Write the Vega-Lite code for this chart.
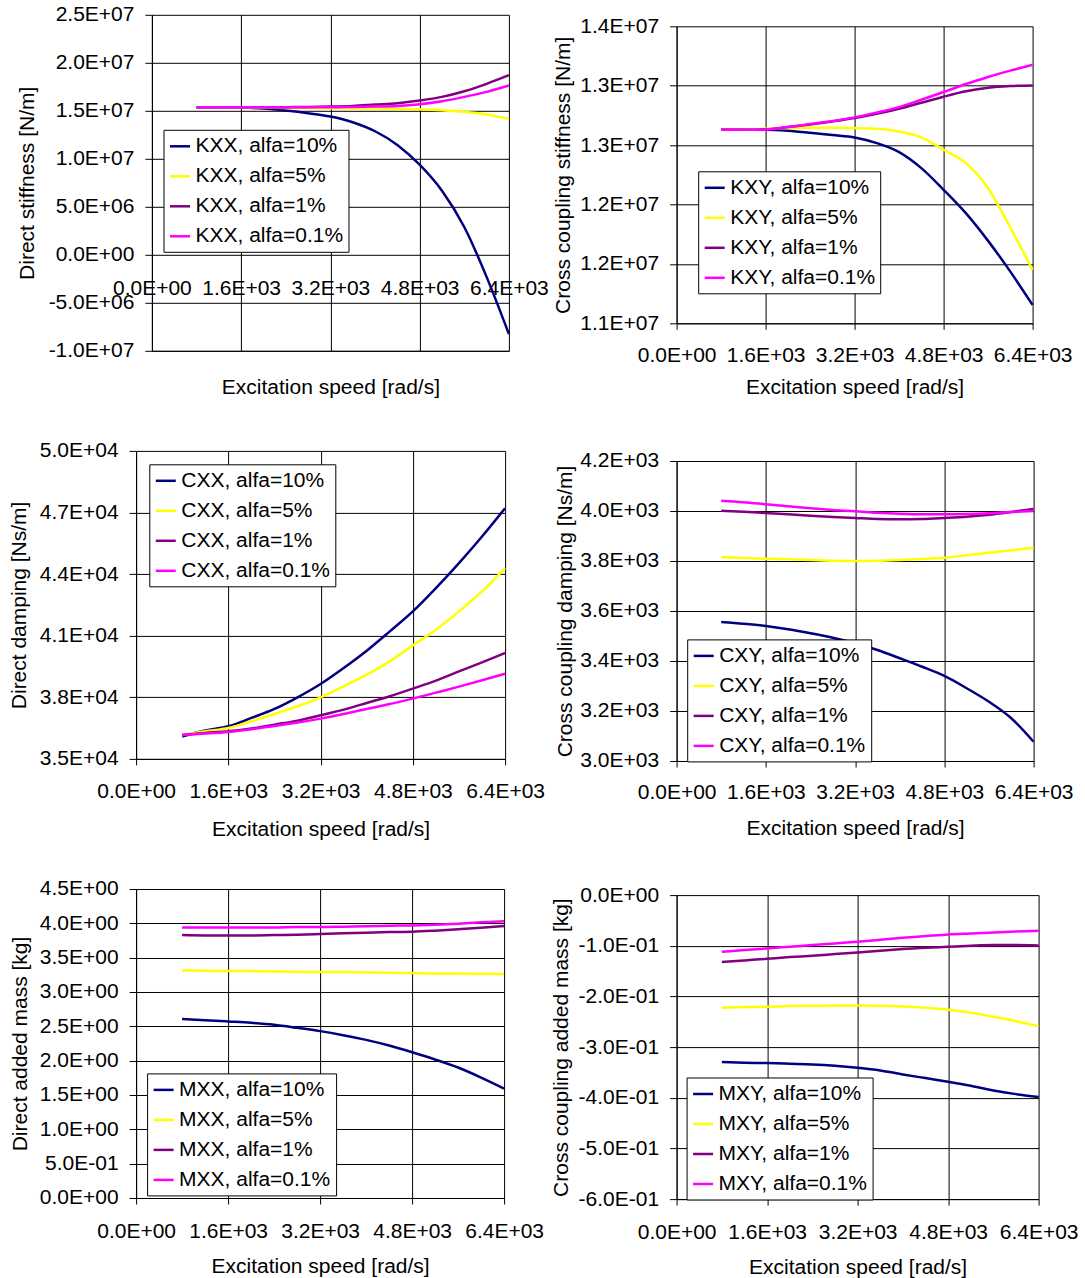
{
"$schema": "https://vega.github.io/schema/vega-lite/v6.json",
"background": "white",
"padding": {"left": 8.1, "top": 3.8, "right": 0, "bottom": 0},
"config": {
  "view": {"stroke": null},
  "font": "Liberation Sans",
  "axis": {"labelFont": "Liberation Sans", "labelFontSize": 21, "labelColor": "#000000", "titleFont": "Liberation Sans", "titleFontSize": 21, "titleFontWeight": "normal", "titleColor": "#000000", "domainColor": "#000000", "tickColor": "#000000", "gridColor": "#000000", "gridOpacity": 1, "gridWidth": 1, "labelFlush": false, "labelOverlap": false, "tickSize": 7, "labelPadding": 11, "grid": true},
  "axisX": {"tickSize": 6, "labelPadding": 35, "labelBaseline": "alphabetic", "titleBaseline": "alphabetic"},
  "legend": {"labelFont": "Liberation Sans", "labelFontSize": 21, "labelColor": "#000000", "symbolType": "stroke", "symbolSize": 400, "symbolStrokeWidth": 2.5, "labelOffset": 4, "rowPadding": 8, "padding": 5, "fillColor": "#ffffff", "strokeColor": "#000000", "labelLimit": 400, "orient": "none"},
  "title": {"offset": 0}
},
"spacing": 0.5,
"resolve": {"scale": {"color": "independent"}, "legend": {"color": "independent"}},
"hconcat": [
{
 "spacing": 38.1,
 "resolve": {"scale": {"color": "independent"}, "legend": {"color": "independent"}},
 "vconcat": [
 {
 "spacing": -120.2,
 "resolve": {"scale": {"color": "independent"}, "legend": {"color": "independent"}},
 "hconcat": [
 {"width": 1, "height": 0.1, "data": {"values": []}, "mark": "point", "encoding": {}},
 {
  "width": 357, "height": 336,
  "data": {"values": [
{"series":"KXX, alfa=10%","speed":800,"value":15370000},{"series":"KXX, alfa=10%","speed":1200,"value":15370000},{"series":"KXX, alfa=10%","speed":1600,"value":15340000},{"series":"KXX, alfa=10%","speed":2000,"value":15230000},{"series":"KXX, alfa=10%","speed":2400,"value":15020000},{"series":"KXX, alfa=10%","speed":2800,"value":14750000},{"series":"KXX, alfa=10%","speed":3200,"value":14400000},{"series":"KXX, alfa=10%","speed":3600,"value":13810000},{"series":"KXX, alfa=10%","speed":4000,"value":12870000},{"series":"KXX, alfa=10%","speed":4400,"value":11450000},{"series":"KXX, alfa=10%","speed":4800,"value":9390000},{"series":"KXX, alfa=10%","speed":5200,"value":6680000},{"series":"KXX, alfa=10%","speed":5600,"value":2900000},{"series":"KXX, alfa=10%","speed":6000,"value":-2300000},{"series":"KXX, alfa=10%","speed":6400,"value":-8260000},
{"series":"KXX, alfa=5%","speed":800,"value":15370000},{"series":"KXX, alfa=5%","speed":1200,"value":15360000},{"series":"KXX, alfa=5%","speed":1600,"value":15340000},{"series":"KXX, alfa=5%","speed":2000,"value":15320000},{"series":"KXX, alfa=5%","speed":2400,"value":15300000},{"series":"KXX, alfa=5%","speed":2800,"value":15280000},{"series":"KXX, alfa=5%","speed":3200,"value":15270000},{"series":"KXX, alfa=5%","speed":3600,"value":15250000},{"series":"KXX, alfa=5%","speed":4000,"value":15230000},{"series":"KXX, alfa=5%","speed":4400,"value":15200000},{"series":"KXX, alfa=5%","speed":4800,"value":15160000},{"series":"KXX, alfa=5%","speed":5200,"value":15060000},{"series":"KXX, alfa=5%","speed":5600,"value":14890000},{"series":"KXX, alfa=5%","speed":6000,"value":14610000},{"series":"KXX, alfa=5%","speed":6400,"value":14160000},
{"series":"KXX, alfa=1%","speed":800,"value":15370000},{"series":"KXX, alfa=1%","speed":1200,"value":15370000},{"series":"KXX, alfa=1%","speed":1600,"value":15370000},{"series":"KXX, alfa=1%","speed":2000,"value":15370000},{"series":"KXX, alfa=1%","speed":2400,"value":15380000},{"series":"KXX, alfa=1%","speed":2800,"value":15400000},{"series":"KXX, alfa=1%","speed":3200,"value":15440000},{"series":"KXX, alfa=1%","speed":3600,"value":15510000},{"series":"KXX, alfa=1%","speed":4000,"value":15650000},{"series":"KXX, alfa=1%","speed":4400,"value":15790000},{"series":"KXX, alfa=1%","speed":4800,"value":16070000},{"series":"KXX, alfa=1%","speed":5200,"value":16450000},{"series":"KXX, alfa=1%","speed":5600,"value":17040000},{"series":"KXX, alfa=1%","speed":6000,"value":17810000},{"series":"KXX, alfa=1%","speed":6400,"value":18710000},
{"series":"KXX, alfa=0.1%","speed":800,"value":15370000},{"series":"KXX, alfa=0.1%","speed":1200,"value":15370000},{"series":"KXX, alfa=0.1%","speed":1600,"value":15370000},{"series":"KXX, alfa=0.1%","speed":2000,"value":15370000},{"series":"KXX, alfa=0.1%","speed":2400,"value":15370000},{"series":"KXX, alfa=0.1%","speed":2800,"value":15370000},{"series":"KXX, alfa=0.1%","speed":3200,"value":15370000},{"series":"KXX, alfa=0.1%","speed":3600,"value":15400000},{"series":"KXX, alfa=0.1%","speed":4000,"value":15440000},{"series":"KXX, alfa=0.1%","speed":4400,"value":15510000},{"series":"KXX, alfa=0.1%","speed":4800,"value":15690000},{"series":"KXX, alfa=0.1%","speed":5200,"value":16000000},{"series":"KXX, alfa=0.1%","speed":5600,"value":16450000},{"series":"KXX, alfa=0.1%","speed":6000,"value":16970000},{"series":"KXX, alfa=0.1%","speed":6400,"value":17630000}
  ]},
  "mark": {"type": "line", "strokeWidth": 2.5, "interpolate": "monotone"},
  "encoding": {
   "x": {"field": "speed", "type": "quantitative", "scale": {"domain": [0, 6400], "nice": false},
     "axis": {"title": "Excitation speed [rad/s]", "values": [0, 1600, 3200, 4800, 6400], "tickSize": 0, "labelPadding": -56.7, "titleY": 42.4,
      "labelExpr": "(datum.value < 0 ? '-' : '') + slice(format(abs(datum.value), '.1e'), 0, indexof(format(abs(datum.value), '.1e'), 'e')) + 'E' + slice(format(abs(datum.value), '.1e'), indexof(format(abs(datum.value), '.1e'), 'e') + 1, indexof(format(abs(datum.value), '.1e'), 'e') + 2) + '0' + slice(format(abs(datum.value), '.1e'), indexof(format(abs(datum.value), '.1e'), 'e') + 2)"}},
   "y": {"field": "value", "type": "quantitative", "scale": {"domain": [-10000000, 25000000], "nice": false, "zero": false},
     "axis": {"title": "Direct stiffness [N/m]", "values": [-10000000, -5000000, 0, 5000000, 10000000, 15000000, 20000000, 25000000], "titleX": -114,
      "labelExpr": "(datum.value < 0 ? '-' : '') + slice(format(abs(datum.value), '.1e'), 0, indexof(format(abs(datum.value), '.1e'), 'e')) + 'E' + slice(format(abs(datum.value), '.1e'), indexof(format(abs(datum.value), '.1e'), 'e') + 1, indexof(format(abs(datum.value), '.1e'), 'e') + 2) + '0' + slice(format(abs(datum.value), '.1e'), indexof(format(abs(datum.value), '.1e'), 'e') + 2)"}},
   "color": {"field": "series", "type": "nominal",
     "scale": {"domain": ["KXX, alfa=10%", "KXX, alfa=5%", "KXX, alfa=1%", "KXX, alfa=0.1%"], "range": ["#000080", "#FFFF00", "#800080", "#FF00FF"]},
     "legend": {"title": null, "orient": "none", "legendX": 11.6, "legendY": 115}}
  }
 }
 ]
 },
 {
  "width": 369, "height": 308,
  "title": {"text": " ", "fontSize": 3.6, "offset": 0},
  "data": {"values": [
{"series":"CXX, alfa=10%","speed":800,"value":36087},{"series":"CXX, alfa=10%","speed":1200,"value":36379},{"series":"CXX, alfa=10%","speed":1600,"value":36589},{"series":"CXX, alfa=10%","speed":2000,"value":36995},{"series":"CXX, alfa=10%","speed":2400,"value":37433},{"series":"CXX, alfa=10%","speed":2800,"value":38000},{"series":"CXX, alfa=10%","speed":3200,"value":38649},{"series":"CXX, alfa=10%","speed":3600,"value":39427},{"series":"CXX, alfa=10%","speed":4000,"value":40270},{"series":"CXX, alfa=10%","speed":4400,"value":41211},{"series":"CXX, alfa=10%","speed":4800,"value":42184},{"series":"CXX, alfa=10%","speed":5200,"value":43319},{"series":"CXX, alfa=10%","speed":5600,"value":44535},{"series":"CXX, alfa=10%","speed":6000,"value":45832},{"series":"CXX, alfa=10%","speed":6400,"value":47211},
{"series":"CXX, alfa=5%","speed":800,"value":36168},{"series":"CXX, alfa=5%","speed":1200,"value":36346},{"series":"CXX, alfa=5%","speed":1600,"value":36508},{"series":"CXX, alfa=5%","speed":2000,"value":36833},{"series":"CXX, alfa=5%","speed":2400,"value":37189},{"series":"CXX, alfa=5%","speed":2800,"value":37562},{"series":"CXX, alfa=5%","speed":3200,"value":38000},{"series":"CXX, alfa=5%","speed":3600,"value":38535},{"series":"CXX, alfa=5%","speed":4000,"value":39103},{"series":"CXX, alfa=5%","speed":4400,"value":39751},{"series":"CXX, alfa=5%","speed":4800,"value":40530},{"series":"CXX, alfa=5%","speed":5200,"value":41292},{"series":"CXX, alfa=5%","speed":5600,"value":42184},{"series":"CXX, alfa=5%","speed":6000,"value":43157},{"series":"CXX, alfa=5%","speed":6400,"value":44292},
{"series":"CXX, alfa=1%","speed":800,"value":36168},{"series":"CXX, alfa=1%","speed":1200,"value":36265},{"series":"CXX, alfa=1%","speed":1600,"value":36346},{"series":"CXX, alfa=1%","speed":2000,"value":36476},{"series":"CXX, alfa=1%","speed":2400,"value":36670},{"series":"CXX, alfa=1%","speed":2800,"value":36865},{"series":"CXX, alfa=1%","speed":3200,"value":37124},{"series":"CXX, alfa=1%","speed":3600,"value":37400},{"series":"CXX, alfa=1%","speed":4000,"value":37724},{"series":"CXX, alfa=1%","speed":4400,"value":38049},{"series":"CXX, alfa=1%","speed":4800,"value":38422},{"series":"CXX, alfa=1%","speed":5200,"value":38811},{"series":"CXX, alfa=1%","speed":5600,"value":39265},{"series":"CXX, alfa=1%","speed":6000,"value":39703},{"series":"CXX, alfa=1%","speed":6400,"value":40157},
{"series":"CXX, alfa=0.1%","speed":800,"value":36168},{"series":"CXX, alfa=0.1%","speed":1200,"value":36233},{"series":"CXX, alfa=0.1%","speed":1600,"value":36314},{"series":"CXX, alfa=0.1%","speed":2000,"value":36443},{"series":"CXX, alfa=0.1%","speed":2400,"value":36606},{"series":"CXX, alfa=0.1%","speed":2800,"value":36768},{"series":"CXX, alfa=0.1%","speed":3200,"value":36962},{"series":"CXX, alfa=0.1%","speed":3600,"value":37189},{"series":"CXX, alfa=0.1%","speed":4000,"value":37433},{"series":"CXX, alfa=0.1%","speed":4400,"value":37676},{"series":"CXX, alfa=0.1%","speed":4800,"value":37935},{"series":"CXX, alfa=0.1%","speed":5200,"value":38227},{"series":"CXX, alfa=0.1%","speed":5600,"value":38519},{"series":"CXX, alfa=0.1%","speed":6000,"value":38827},{"series":"CXX, alfa=0.1%","speed":6400,"value":39152}
  ]},
  "mark": {"type": "line", "strokeWidth": 2.5, "interpolate": "monotone"},
  "encoding": {
   "x": {"field": "speed", "type": "quantitative", "scale": {"domain": [0, 6400], "nice": false},
     "axis": {"title": "Excitation speed [rad/s]", "values": [0, 1600, 3200, 4800, 6400], "labelPadding": 33, "titleY": 77,
      "labelExpr": "(datum.value < 0 ? '-' : '') + slice(format(abs(datum.value), '.1e'), 0, indexof(format(abs(datum.value), '.1e'), 'e')) + 'E' + slice(format(abs(datum.value), '.1e'), indexof(format(abs(datum.value), '.1e'), 'e') + 1, indexof(format(abs(datum.value), '.1e'), 'e') + 2) + '0' + slice(format(abs(datum.value), '.1e'), indexof(format(abs(datum.value), '.1e'), 'e') + 2)"}},
   "y": {"field": "value", "type": "quantitative", "scale": {"domain": [35000, 50000], "nice": false, "zero": false},
     "axis": {"title": "Direct damping [Ns/m]", "values": [35000, 38000, 41000, 44000, 47000, 50000], "titleX": -107,
      "labelExpr": "(datum.value < 0 ? '-' : '') + slice(format(abs(datum.value), '.1e'), 0, indexof(format(abs(datum.value), '.1e'), 'e')) + 'E' + slice(format(abs(datum.value), '.1e'), indexof(format(abs(datum.value), '.1e'), 'e') + 1, indexof(format(abs(datum.value), '.1e'), 'e') + 2) + '0' + slice(format(abs(datum.value), '.1e'), indexof(format(abs(datum.value), '.1e'), 'e') + 2)"}},
   "color": {"field": "series", "type": "nominal",
     "scale": {"domain": ["CXX, alfa=10%", "CXX, alfa=5%", "CXX, alfa=1%", "CXX, alfa=0.1%"], "range": ["#000080", "#FFFF00", "#800080", "#FF00FF"]},
     "legend": {"title": null, "orient": "none", "legendX": 13.2, "legendY": 13.4}}
  }
 },
 {
  "width": 368, "height": 309,
  "data": {"values": [
{"series":"MXX, alfa=10%","speed":800,"value":2.605},{"series":"MXX, alfa=10%","speed":1200,"value":2.59},{"series":"MXX, alfa=10%","speed":1600,"value":2.571},{"series":"MXX, alfa=10%","speed":2000,"value":2.551},{"series":"MXX, alfa=10%","speed":2400,"value":2.522},{"series":"MXX, alfa=10%","speed":2800,"value":2.478},{"series":"MXX, alfa=10%","speed":3200,"value":2.43},{"series":"MXX, alfa=10%","speed":3600,"value":2.371},{"series":"MXX, alfa=10%","speed":4000,"value":2.303},{"series":"MXX, alfa=10%","speed":4400,"value":2.221},{"series":"MXX, alfa=10%","speed":4800,"value":2.123},{"series":"MXX, alfa=10%","speed":5200,"value":2.017},{"series":"MXX, alfa=10%","speed":5600,"value":1.9},{"series":"MXX, alfa=10%","speed":6000,"value":1.754},{"series":"MXX, alfa=10%","speed":6400,"value":1.594},
{"series":"MXX, alfa=5%","speed":800,"value":3.314},{"series":"MXX, alfa=5%","speed":1200,"value":3.309},{"series":"MXX, alfa=5%","speed":1600,"value":3.304},{"series":"MXX, alfa=5%","speed":2000,"value":3.304},{"series":"MXX, alfa=5%","speed":2400,"value":3.3},{"series":"MXX, alfa=5%","speed":2800,"value":3.295},{"series":"MXX, alfa=5%","speed":3200,"value":3.29},{"series":"MXX, alfa=5%","speed":3600,"value":3.29},{"series":"MXX, alfa=5%","speed":4000,"value":3.285},{"series":"MXX, alfa=5%","speed":4400,"value":3.28},{"series":"MXX, alfa=5%","speed":4800,"value":3.275},{"series":"MXX, alfa=5%","speed":5200,"value":3.27},{"series":"MXX, alfa=5%","speed":5600,"value":3.27},{"series":"MXX, alfa=5%","speed":6000,"value":3.266},{"series":"MXX, alfa=5%","speed":6400,"value":3.261},
{"series":"MXX, alfa=1%","speed":800,"value":3.829},{"series":"MXX, alfa=1%","speed":1200,"value":3.824},{"series":"MXX, alfa=1%","speed":1600,"value":3.824},{"series":"MXX, alfa=1%","speed":2000,"value":3.824},{"series":"MXX, alfa=1%","speed":2400,"value":3.829},{"series":"MXX, alfa=1%","speed":2800,"value":3.834},{"series":"MXX, alfa=1%","speed":3200,"value":3.844},{"series":"MXX, alfa=1%","speed":3600,"value":3.854},{"series":"MXX, alfa=1%","speed":4000,"value":3.863},{"series":"MXX, alfa=1%","speed":4400,"value":3.873},{"series":"MXX, alfa=1%","speed":4800,"value":3.878},{"series":"MXX, alfa=1%","speed":5200,"value":3.893},{"series":"MXX, alfa=1%","speed":5600,"value":3.912},{"series":"MXX, alfa=1%","speed":6000,"value":3.936},{"series":"MXX, alfa=1%","speed":6400,"value":3.961},
{"series":"MXX, alfa=0.1%","speed":800,"value":3.941},{"series":"MXX, alfa=0.1%","speed":1200,"value":3.941},{"series":"MXX, alfa=0.1%","speed":1600,"value":3.941},{"series":"MXX, alfa=0.1%","speed":2000,"value":3.941},{"series":"MXX, alfa=0.1%","speed":2400,"value":3.941},{"series":"MXX, alfa=0.1%","speed":2800,"value":3.946},{"series":"MXX, alfa=0.1%","speed":3200,"value":3.946},{"series":"MXX, alfa=0.1%","speed":3600,"value":3.951},{"series":"MXX, alfa=0.1%","speed":4000,"value":3.956},{"series":"MXX, alfa=0.1%","speed":4400,"value":3.965},{"series":"MXX, alfa=0.1%","speed":4800,"value":3.97},{"series":"MXX, alfa=0.1%","speed":5200,"value":3.98},{"series":"MXX, alfa=0.1%","speed":5600,"value":3.995},{"series":"MXX, alfa=0.1%","speed":6000,"value":4.014},{"series":"MXX, alfa=0.1%","speed":6400,"value":4.029}
  ]},
  "mark": {"type": "line", "strokeWidth": 2.5, "interpolate": "monotone"},
  "encoding": {
   "x": {"field": "speed", "type": "quantitative", "scale": {"domain": [0, 6400], "nice": false},
     "axis": {"title": "Excitation speed [rad/s]", "values": [0, 1600, 3200, 4800, 6400], "labelPadding": 34, "titleY": 75,
      "labelExpr": "(datum.value < 0 ? '-' : '') + slice(format(abs(datum.value), '.1e'), 0, indexof(format(abs(datum.value), '.1e'), 'e')) + 'E' + slice(format(abs(datum.value), '.1e'), indexof(format(abs(datum.value), '.1e'), 'e') + 1, indexof(format(abs(datum.value), '.1e'), 'e') + 2) + '0' + slice(format(abs(datum.value), '.1e'), indexof(format(abs(datum.value), '.1e'), 'e') + 2)"}},
   "y": {"field": "value", "type": "quantitative", "scale": {"domain": [0, 4.5], "nice": false, "zero": false},
     "axis": {"title": "Direct added mass [kg]", "values": [0, 0.5, 1, 1.5, 2, 2.5, 3, 3.5, 4, 4.5], "titleX": -106,
      "labelExpr": "(datum.value < 0 ? '-' : '') + slice(format(abs(datum.value), '.1e'), 0, indexof(format(abs(datum.value), '.1e'), 'e')) + 'E' + slice(format(abs(datum.value), '.1e'), indexof(format(abs(datum.value), '.1e'), 'e') + 1, indexof(format(abs(datum.value), '.1e'), 'e') + 2) + '0' + slice(format(abs(datum.value), '.1e'), indexof(format(abs(datum.value), '.1e'), 'e') + 2)"}},
   "color": {"field": "series", "type": "nominal",
     "scale": {"domain": ["MXX, alfa=10%", "MXX, alfa=5%", "MXX, alfa=1%", "MXX, alfa=0.1%"], "range": ["#000080", "#FFFF00", "#800080", "#FF00FF"]},
     "legend": {"title": null, "orient": "none", "legendX": 11, "legendY": 184.4}}
  }
 }
 ]
},
{
 "spacing": -0.5,
 "resolve": {"scale": {"color": "independent"}, "legend": {"color": "independent"}},
 "vconcat": [
 {"width": 1, "height": 0.1, "data": {"values": []}, "mark": "point", "encoding": {}},
 {
 "spacing": 52.7,
 "resolve": {"scale": {"color": "independent"}, "legend": {"color": "independent"}},
 "vconcat": [
 {
  "width": 356, "height": 297,
  "data": {"values": [
{"series":"KXY, alfa=10%","speed":800,"value":12955000},{"series":"KXY, alfa=10%","speed":1200,"value":12955000},{"series":"KXY, alfa=10%","speed":1600,"value":12955000},{"series":"KXY, alfa=10%","speed":2000,"value":12945000},{"series":"KXY, alfa=10%","speed":2400,"value":12925000},{"series":"KXY, alfa=10%","speed":2800,"value":12901000},{"series":"KXY, alfa=10%","speed":3200,"value":12877500},{"series":"KXY, alfa=10%","speed":3600,"value":12820000},{"series":"KXY, alfa=10%","speed":4000,"value":12729200},{"series":"KXY, alfa=10%","speed":4400,"value":12567400},{"series":"KXY, alfa=10%","speed":4800,"value":12348300},{"series":"KXY, alfa=10%","speed":5200,"value":12112400},{"series":"KXY, alfa=10%","speed":5600,"value":11832600},{"series":"KXY, alfa=10%","speed":6000,"value":11522000},{"series":"KXY, alfa=10%","speed":6400,"value":11185000},
{"series":"KXY, alfa=5%","speed":800,"value":12955000},{"series":"KXY, alfa=5%","speed":1200,"value":12958000},{"series":"KXY, alfa=5%","speed":1600,"value":12965000},{"series":"KXY, alfa=5%","speed":2000,"value":12972000},{"series":"KXY, alfa=5%","speed":2400,"value":12975000},{"series":"KXY, alfa=5%","speed":2800,"value":12975000},{"series":"KXY, alfa=5%","speed":3200,"value":12972000},{"series":"KXY, alfa=5%","speed":3600,"value":12965000},{"series":"KXY, alfa=5%","speed":4000,"value":12938000},{"series":"KXY, alfa=5%","speed":4400,"value":12878000},{"series":"KXY, alfa=5%","speed":4800,"value":12753000},{"series":"KXY, alfa=5%","speed":5200,"value":12618000},{"series":"KXY, alfa=5%","speed":5600,"value":12365000},{"series":"KXY, alfa=5%","speed":6000,"value":11967000},{"series":"KXY, alfa=5%","speed":6400,"value":11539000},
{"series":"KXY, alfa=1%","speed":800,"value":12955000},{"series":"KXY, alfa=1%","speed":1200,"value":12955000},{"series":"KXY, alfa=1%","speed":1600,"value":12958000},{"series":"KXY, alfa=1%","speed":2000,"value":12982000},{"series":"KXY, alfa=1%","speed":2400,"value":13009000},{"series":"KXY, alfa=1%","speed":2800,"value":13039000},{"series":"KXY, alfa=1%","speed":3200,"value":13073000},{"series":"KXY, alfa=1%","speed":3600,"value":13117000},{"series":"KXY, alfa=1%","speed":4000,"value":13167000},{"series":"KXY, alfa=1%","speed":4400,"value":13228000},{"series":"KXY, alfa=1%","speed":4800,"value":13289000},{"series":"KXY, alfa=1%","speed":5200,"value":13343000},{"series":"KXY, alfa=1%","speed":5600,"value":13380000},{"series":"KXY, alfa=1%","speed":6000,"value":13397000},{"series":"KXY, alfa=1%","speed":6400,"value":13403000},
{"series":"KXY, alfa=0.1%","speed":800,"value":12955000},{"series":"KXY, alfa=0.1%","speed":1200,"value":12955000},{"series":"KXY, alfa=0.1%","speed":1600,"value":12958000},{"series":"KXY, alfa=0.1%","speed":2000,"value":12982000},{"series":"KXY, alfa=0.1%","speed":2400,"value":13012000},{"series":"KXY, alfa=0.1%","speed":2800,"value":13043000},{"series":"KXY, alfa=0.1%","speed":3200,"value":13080000},{"series":"KXY, alfa=0.1%","speed":3600,"value":13130000},{"series":"KXY, alfa=0.1%","speed":4000,"value":13184000},{"series":"KXY, alfa=0.1%","speed":4400,"value":13258000},{"series":"KXY, alfa=0.1%","speed":4800,"value":13336000},{"series":"KXY, alfa=0.1%","speed":5200,"value":13417000},{"series":"KXY, alfa=0.1%","speed":5600,"value":13488000},{"series":"KXY, alfa=0.1%","speed":6000,"value":13552000},{"series":"KXY, alfa=0.1%","speed":6400,"value":13612000}
  ]},
  "mark": {"type": "line", "strokeWidth": 2.5, "interpolate": "monotone"},
  "encoding": {
   "x": {"field": "speed", "type": "quantitative", "scale": {"domain": [0, 6400], "nice": false},
     "axis": {"title": "Excitation speed [rad/s]", "values": [0, 1600, 3200, 4800, 6400], "labelPadding": 32, "titleY": 70,
      "labelExpr": "(datum.value < 0 ? '-' : '') + slice(format(abs(datum.value), '.1e'), 0, indexof(format(abs(datum.value), '.1e'), 'e')) + 'E' + slice(format(abs(datum.value), '.1e'), indexof(format(abs(datum.value), '.1e'), 'e') + 1, indexof(format(abs(datum.value), '.1e'), 'e') + 2) + '0' + slice(format(abs(datum.value), '.1e'), indexof(format(abs(datum.value), '.1e'), 'e') + 2)"}},
   "y": {"field": "value", "type": "quantitative", "scale": {"domain": [11000000, 14000000], "nice": false, "zero": false},
     "axis": {"title": "Cross coupling stiffness [N/m]", "values": [11000000, 11600000, 12200000, 12800000, 13400000, 14000000], "titleX": -103,
      "labelExpr": "(datum.value < 0 ? '-' : '') + slice(format(abs(datum.value), '.1e'), 0, indexof(format(abs(datum.value), '.1e'), 'e')) + 'E' + slice(format(abs(datum.value), '.1e'), indexof(format(abs(datum.value), '.1e'), 'e') + 1, indexof(format(abs(datum.value), '.1e'), 'e') + 2) + '0' + slice(format(abs(datum.value), '.1e'), indexof(format(abs(datum.value), '.1e'), 'e') + 2)"}},
   "color": {"field": "series", "type": "nominal",
     "scale": {"domain": ["KXY, alfa=10%", "KXY, alfa=5%", "KXY, alfa=1%", "KXY, alfa=0.1%"], "range": ["#000080", "#FFFF00", "#800080", "#FF00FF"]},
     "legend": {"title": null, "orient": "none", "legendX": 21.6, "legendY": 145}}
  }
 },
 {
 "spacing": 45.1,
 "resolve": {"scale": {"color": "independent"}, "legend": {"color": "independent"}},
 "vconcat": [
 {
  "width": 357, "height": 300,
  "data": {"values": [
{"series":"CXY, alfa=10%","speed":800,"value":3556},{"series":"CXY, alfa=10%","speed":1200,"value":3549},{"series":"CXY, alfa=10%","speed":1600,"value":3540},{"series":"CXY, alfa=10%","speed":2000,"value":3527},{"series":"CXY, alfa=10%","speed":2400,"value":3511},{"series":"CXY, alfa=10%","speed":2800,"value":3493},{"series":"CXY, alfa=10%","speed":3200,"value":3471},{"series":"CXY, alfa=10%","speed":3600,"value":3444},{"series":"CXY, alfa=10%","speed":4000,"value":3411},{"series":"CXY, alfa=10%","speed":4400,"value":3377},{"series":"CXY, alfa=10%","speed":4800,"value":3340},{"series":"CXY, alfa=10%","speed":5200,"value":3291},{"series":"CXY, alfa=10%","speed":5600,"value":3237},{"series":"CXY, alfa=10%","speed":6000,"value":3171},{"series":"CXY, alfa=10%","speed":6400,"value":3077},
{"series":"CXY, alfa=5%","speed":800,"value":3815},{"series":"CXY, alfa=5%","speed":1200,"value":3812},{"series":"CXY, alfa=5%","speed":1600,"value":3809},{"series":"CXY, alfa=5%","speed":2000,"value":3807},{"series":"CXY, alfa=5%","speed":2400,"value":3804},{"series":"CXY, alfa=5%","speed":2800,"value":3801},{"series":"CXY, alfa=5%","speed":3200,"value":3800},{"series":"CXY, alfa=5%","speed":3600,"value":3801},{"series":"CXY, alfa=5%","speed":4000,"value":3804},{"series":"CXY, alfa=5%","speed":4400,"value":3808},{"series":"CXY, alfa=5%","speed":4800,"value":3813},{"series":"CXY, alfa=5%","speed":5200,"value":3823},{"series":"CXY, alfa=5%","speed":5600,"value":3833},{"series":"CXY, alfa=5%","speed":6000,"value":3843},{"series":"CXY, alfa=5%","speed":6400,"value":3853},
{"series":"CXY, alfa=1%","speed":800,"value":4001},{"series":"CXY, alfa=1%","speed":1200,"value":3997},{"series":"CXY, alfa=1%","speed":1600,"value":3992},{"series":"CXY, alfa=1%","speed":2000,"value":3987},{"series":"CXY, alfa=1%","speed":2400,"value":3981},{"series":"CXY, alfa=1%","speed":2800,"value":3976},{"series":"CXY, alfa=1%","speed":3200,"value":3972},{"series":"CXY, alfa=1%","speed":3600,"value":3968},{"series":"CXY, alfa=1%","speed":4000,"value":3967},{"series":"CXY, alfa=1%","speed":4400,"value":3968},{"series":"CXY, alfa=1%","speed":4800,"value":3972},{"series":"CXY, alfa=1%","speed":5200,"value":3977},{"series":"CXY, alfa=1%","speed":5600,"value":3985},{"series":"CXY, alfa=1%","speed":6000,"value":3996},{"series":"CXY, alfa=1%","speed":6400,"value":4008},
{"series":"CXY, alfa=0.1%","speed":800,"value":4041},{"series":"CXY, alfa=0.1%","speed":1200,"value":4035},{"series":"CXY, alfa=0.1%","speed":1600,"value":4027},{"series":"CXY, alfa=0.1%","speed":2000,"value":4019},{"series":"CXY, alfa=0.1%","speed":2400,"value":4011},{"series":"CXY, alfa=0.1%","speed":2800,"value":4004},{"series":"CXY, alfa=0.1%","speed":3200,"value":3999},{"series":"CXY, alfa=0.1%","speed":3600,"value":3993},{"series":"CXY, alfa=0.1%","speed":4000,"value":3989},{"series":"CXY, alfa=0.1%","speed":4400,"value":3987},{"series":"CXY, alfa=0.1%","speed":4800,"value":3987},{"series":"CXY, alfa=0.1%","speed":5200,"value":3988},{"series":"CXY, alfa=0.1%","speed":5600,"value":3991},{"series":"CXY, alfa=0.1%","speed":6000,"value":3996},{"series":"CXY, alfa=0.1%","speed":6400,"value":4000}
  ]},
  "mark": {"type": "line", "strokeWidth": 2.5, "interpolate": "monotone"},
  "encoding": {
   "x": {"field": "speed", "type": "quantitative", "scale": {"domain": [0, 6400], "nice": false},
     "axis": {"title": "Excitation speed [rad/s]", "values": [0, 1600, 3200, 4800, 6400], "labelPadding": 32, "titleY": 74,
      "labelExpr": "(datum.value < 0 ? '-' : '') + slice(format(abs(datum.value), '.1e'), 0, indexof(format(abs(datum.value), '.1e'), 'e')) + 'E' + slice(format(abs(datum.value), '.1e'), indexof(format(abs(datum.value), '.1e'), 'e') + 1, indexof(format(abs(datum.value), '.1e'), 'e') + 2) + '0' + slice(format(abs(datum.value), '.1e'), indexof(format(abs(datum.value), '.1e'), 'e') + 2)"}},
   "y": {"field": "value", "type": "quantitative", "scale": {"domain": [3000, 4200], "nice": false, "zero": false},
     "axis": {"title": "Cross coupling damping [Ns/m]", "values": [3000, 3200, 3400, 3600, 3800, 4000, 4200], "titleX": -101,
      "labelExpr": "(datum.value < 0 ? '-' : '') + slice(format(abs(datum.value), '.1e'), 0, indexof(format(abs(datum.value), '.1e'), 'e')) + 'E' + slice(format(abs(datum.value), '.1e'), indexof(format(abs(datum.value), '.1e'), 'e') + 1, indexof(format(abs(datum.value), '.1e'), 'e') + 2) + '0' + slice(format(abs(datum.value), '.1e'), indexof(format(abs(datum.value), '.1e'), 'e') + 2)"}},
   "color": {"field": "series", "type": "nominal",
     "scale": {"domain": ["CXY, alfa=10%", "CXY, alfa=5%", "CXY, alfa=1%", "CXY, alfa=0.1%"], "range": ["#000080", "#FFFF00", "#800080", "#FF00FF"]},
     "legend": {"title": null, "orient": "none", "legendX": 10.6, "legendY": 178.4}}
  }
 },
 {
  "width": 362, "height": 304,
  "data": {"values": [
{"series":"MXY, alfa=10%","speed":800,"value":-0.3296},{"series":"MXY, alfa=10%","speed":1200,"value":-0.3309},{"series":"MXY, alfa=10%","speed":1600,"value":-0.3316},{"series":"MXY, alfa=10%","speed":2000,"value":-0.3329},{"series":"MXY, alfa=10%","speed":2400,"value":-0.3342},{"series":"MXY, alfa=10%","speed":2800,"value":-0.3368},{"series":"MXY, alfa=10%","speed":3200,"value":-0.3408},{"series":"MXY, alfa=10%","speed":3600,"value":-0.3461},{"series":"MXY, alfa=10%","speed":4000,"value":-0.3539},{"series":"MXY, alfa=10%","speed":4400,"value":-0.3612},{"series":"MXY, alfa=10%","speed":4800,"value":-0.3684},{"series":"MXY, alfa=10%","speed":5200,"value":-0.3763},{"series":"MXY, alfa=10%","speed":5600,"value":-0.3855},{"series":"MXY, alfa=10%","speed":6000,"value":-0.3928},{"series":"MXY, alfa=10%","speed":6400,"value":-0.3987},
{"series":"MXY, alfa=5%","speed":800,"value":-0.2224},{"series":"MXY, alfa=5%","speed":1200,"value":-0.2211},{"series":"MXY, alfa=5%","speed":1600,"value":-0.2204},{"series":"MXY, alfa=5%","speed":2000,"value":-0.2191},{"series":"MXY, alfa=5%","speed":2400,"value":-0.2184},{"series":"MXY, alfa=5%","speed":2800,"value":-0.2178},{"series":"MXY, alfa=5%","speed":3200,"value":-0.2178},{"series":"MXY, alfa=5%","speed":3600,"value":-0.2184},{"series":"MXY, alfa=5%","speed":4000,"value":-0.2197},{"series":"MXY, alfa=5%","speed":4400,"value":-0.2224},{"series":"MXY, alfa=5%","speed":4800,"value":-0.2263},{"series":"MXY, alfa=5%","speed":5200,"value":-0.2322},{"series":"MXY, alfa=5%","speed":5600,"value":-0.2401},{"series":"MXY, alfa=5%","speed":6000,"value":-0.2487},{"series":"MXY, alfa=5%","speed":6400,"value":-0.2586},
{"series":"MXY, alfa=1%","speed":800,"value":-0.1322},{"series":"MXY, alfa=1%","speed":1200,"value":-0.1289},{"series":"MXY, alfa=1%","speed":1600,"value":-0.1257},{"series":"MXY, alfa=1%","speed":2000,"value":-0.1224},{"series":"MXY, alfa=1%","speed":2400,"value":-0.1197},{"series":"MXY, alfa=1%","speed":2800,"value":-0.1164},{"series":"MXY, alfa=1%","speed":3200,"value":-0.1132},{"series":"MXY, alfa=1%","speed":3600,"value":-0.1099},{"series":"MXY, alfa=1%","speed":4000,"value":-0.1066},{"series":"MXY, alfa=1%","speed":4400,"value":-0.1039},{"series":"MXY, alfa=1%","speed":4800,"value":-0.102},{"series":"MXY, alfa=1%","speed":5200,"value":-0.1},{"series":"MXY, alfa=1%","speed":5600,"value":-0.0987},{"series":"MXY, alfa=1%","speed":6000,"value":-0.0987},{"series":"MXY, alfa=1%","speed":6400,"value":-0.0993},
{"series":"MXY, alfa=0.1%","speed":800,"value":-0.1118},{"series":"MXY, alfa=0.1%","speed":1200,"value":-0.1086},{"series":"MXY, alfa=0.1%","speed":1600,"value":-0.1053},{"series":"MXY, alfa=0.1%","speed":2000,"value":-0.102},{"series":"MXY, alfa=0.1%","speed":2400,"value":-0.0987},{"series":"MXY, alfa=0.1%","speed":2800,"value":-0.0954},{"series":"MXY, alfa=0.1%","speed":3200,"value":-0.0921},{"series":"MXY, alfa=0.1%","speed":3600,"value":-0.0882},{"series":"MXY, alfa=0.1%","speed":4000,"value":-0.0842},{"series":"MXY, alfa=0.1%","speed":4400,"value":-0.0809},{"series":"MXY, alfa=0.1%","speed":4800,"value":-0.0776},{"series":"MXY, alfa=0.1%","speed":5200,"value":-0.0757},{"series":"MXY, alfa=0.1%","speed":5600,"value":-0.0737},{"series":"MXY, alfa=0.1%","speed":6000,"value":-0.0717},{"series":"MXY, alfa=0.1%","speed":6400,"value":-0.0704}
  ]},
  "mark": {"type": "line", "strokeWidth": 2.5, "interpolate": "monotone"},
  "encoding": {
   "x": {"field": "speed", "type": "quantitative", "scale": {"domain": [0, 6400], "nice": false},
     "axis": {"title": "Excitation speed [rad/s]", "values": [0, 1600, 3200, 4800, 6400], "labelPadding": 33, "titleY": 74,
      "labelExpr": "(datum.value < 0 ? '-' : '') + slice(format(abs(datum.value), '.1e'), 0, indexof(format(abs(datum.value), '.1e'), 'e')) + 'E' + slice(format(abs(datum.value), '.1e'), indexof(format(abs(datum.value), '.1e'), 'e') + 1, indexof(format(abs(datum.value), '.1e'), 'e') + 2) + '0' + slice(format(abs(datum.value), '.1e'), indexof(format(abs(datum.value), '.1e'), 'e') + 2)"}},
   "y": {"field": "value", "type": "quantitative", "scale": {"domain": [-0.6, 0], "nice": false, "zero": false},
     "axis": {"title": "Cross coupling added mass [kg]", "values": [-0.6, -0.5, -0.4, -0.3, -0.2, -0.1, 0], "titleX": -105,
      "labelExpr": "(datum.value < 0 ? '-' : '') + slice(format(abs(datum.value), '.1e'), 0, indexof(format(abs(datum.value), '.1e'), 'e')) + 'E' + slice(format(abs(datum.value), '.1e'), indexof(format(abs(datum.value), '.1e'), 'e') + 1, indexof(format(abs(datum.value), '.1e'), 'e') + 2) + '0' + slice(format(abs(datum.value), '.1e'), indexof(format(abs(datum.value), '.1e'), 'e') + 2)"}},
   "color": {"field": "series", "type": "nominal",
     "scale": {"domain": ["MXY, alfa=10%", "MXY, alfa=5%", "MXY, alfa=1%", "MXY, alfa=0.1%"], "range": ["#000080", "#FFFF00", "#800080", "#FF00FF"]},
     "legend": {"title": null, "orient": "none", "legendX": 10, "legendY": 182.4}}
  }
 }
 ]
 }
 ]
 }
 ]
}
]
}
